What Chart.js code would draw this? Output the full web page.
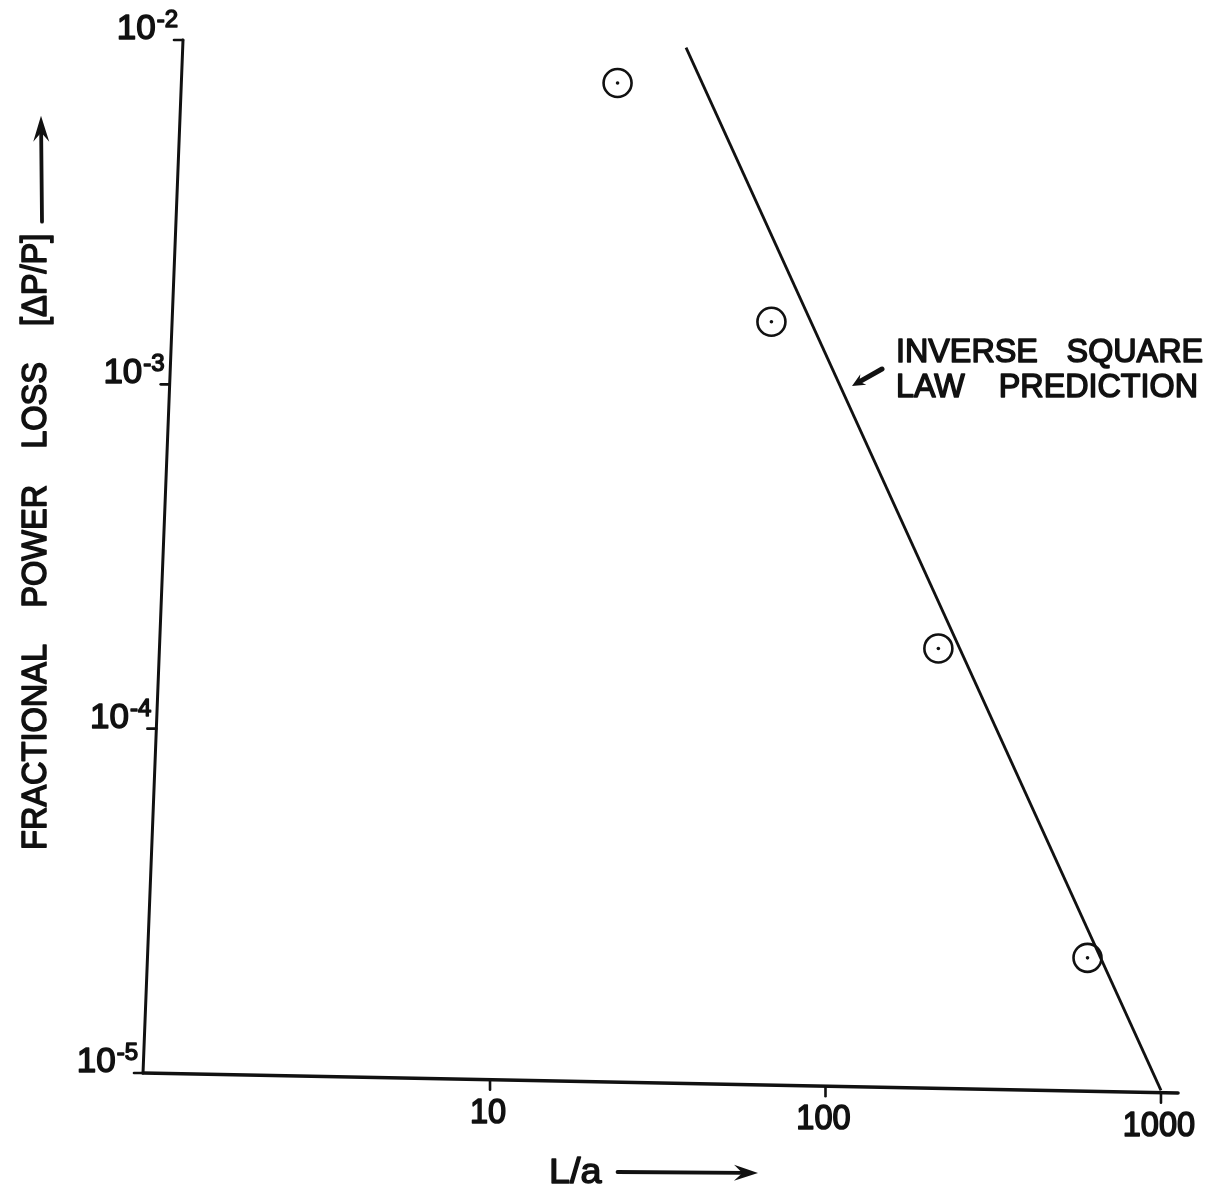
<!DOCTYPE html>
<html>
<head>
<meta charset="utf-8">
<script src="https://cdn.jsdelivr.net/npm/chart.js@4/dist/chart.umd.min.js"></script>
<style>
  html, body { margin: 0; padding: 0; background: #fff; }
  canvas { display: block; }
</style>
</head>
<body>
<canvas id="chart" width="1212" height="1190"></canvas>
<script>
// Measured fractional power loss against L/a
const ratioLa   = [24, 69, 217, 604];
const powerLoss = [7.5e-3, 1.52e-3, 1.71e-4, 2.16e-5];

// Inverse square law prediction (end points of the straight line)
const lawLa   = [38.4, 1000];
const lawLoss = [9.5e-3, 8.9e-6];

// Axis ticks
const xTicks      = [10, 100, 1000];
const xTickLabels = ['10', '100', '1000'];
const yTicks      = [1e-2, 1e-3, 1e-4, 1e-5];
const yTickExp    = ['-2', '-3', '-4', '-5'];

// Texts
const xTitle      = 'L/a';
const yTitleWords = ['FRACTIONAL', 'POWER', 'LOSS', '[ΔP/P]'];
const noteLines   = [['INVERSE', 'SQUARE'], ['LAW', 'PREDICTION']];

const FONT = '"Liberation Sans", Arial, Helvetica, sans-serif';
const INK = '#111';
const WEIGHT = 1.5;   // extra outline to thicken the strokes

function pairs(xs, ys) { return xs.map((v, i) => ({ x: v, y: ys[i] })); }

function inkText(ctx, s, x, y, sx = 1) {
  ctx.save();
  ctx.translate(x, y);
  ctx.scale(sx, 1);
  ctx.lineWidth = WEIGHT / sx;
  ctx.lineJoin = 'round';
  ctx.fillText(s, 0, 0);
  ctx.strokeText(s, 0, 0);
  ctx.restore();
}
function textW(ctx, s, sx = 1) { return ctx.measureText(s).width * sx; }

// straight arrow with a barbed head at (x2, y2)
function arrow(ctx, x1, y1, x2, y2, width, headLen, headHalf) {
  const ang = Math.atan2(y2 - y1, x2 - x1);
  const c = Math.cos(ang), s = Math.sin(ang);
  ctx.save();
  ctx.lineWidth = width;
  ctx.lineCap = 'round';
  ctx.beginPath();
  ctx.moveTo(x1, y1);
  ctx.lineTo(x2 - c * headLen * 0.6, y2 - s * headLen * 0.6);
  ctx.stroke();
  const bx = x2 - c * headLen, by = y2 - s * headLen;
  const nx = x2 - c * headLen * 0.65, ny = y2 - s * headLen * 0.65;
  ctx.beginPath();
  ctx.moveTo(x2, y2);
  ctx.lineTo(bx - s * headHalf, by + c * headHalf);
  ctx.lineTo(nx, ny);
  ctx.lineTo(bx + s * headHalf, by - c * headHalf);
  ctx.closePath();
  ctx.fill();
  ctx.restore();
}

// Hand-drawn style frame: the vertical axis leans and the horizontal axis sags slightly
const Y_AXIS_LEAN = 40;
const X_AXIS_SAG = 20;

const framePlugin = {
  id: 'frame',
  afterDraw(chart) {
    const { ctx, chartArea: a, scales: { x, y } } = chart;
    const axX = py => a.left + 3 + Y_AXIS_LEAN * (a.bottom - py) / (a.bottom - a.top);
    const axY = px => a.bottom + X_AXIS_SAG * (px - a.left) / (a.right - a.left);

    ctx.save();
    ctx.strokeStyle = INK;
    ctx.fillStyle = INK;
    ctx.lineCap = 'round';

    // vertical axis
    ctx.lineWidth = 3;
    ctx.beginPath();
    ctx.moveTo(axX(a.top), a.top);
    ctx.lineTo(axX(a.bottom), a.bottom);
    ctx.stroke();

    // horizontal axis
    ctx.lineWidth = 3.6;
    ctx.beginPath();
    ctx.moveTo(axX(a.bottom), a.bottom);
    ctx.lineTo(a.right, axY(a.right));
    ctx.stroke();

    // y ticks and labels
    ctx.textBaseline = 'alphabetic';
    yTicks.forEach((v, i) => {
      const py = y.getPixelForValue(v);
      const px = axX(py);
      ctx.lineWidth = 2.6;
      ctx.beginPath();
      ctx.moveTo(px - 9, py);
      ctx.lineTo(px, py);
      ctx.stroke();

      ctx.font = `24px ${FONT}`;
      const ew = textW(ctx, yTickExp[i]);
      ctx.textAlign = 'right';
      inkText(ctx, yTickExp[i], px - 5, py - 13);
      ctx.font = `35px ${FONT}`;
      inkText(ctx, '10', px - 6 - ew, py - 1);
    });

    // x ticks and labels
    ctx.textAlign = 'center';
    xTicks.forEach((v, i) => {
      const px = x.getPixelForValue(v);
      const py = axY(px);
      ctx.lineWidth = 2.6;
      ctx.beginPath();
      ctx.moveTo(px, py);
      ctx.lineTo(px, py + 10);
      ctx.stroke();
      ctx.font = `35px ${FONT}`;
      inkText(ctx, xTickLabels[i], px - 2, py + 43, 0.93);
    });

    // x title with arrow
    ctx.textAlign = 'left';
    ctx.font = `35px ${FONT}`;
    inkText(ctx, xTitle, 549, 1183, 1.08);
    const tw = textW(ctx, xTitle, 1.08);
    arrow(ctx, 549 + tw + 16, 1172, 758, 1173, 3.8, 24, 8);

    // y title, rotated, with arrow
    ctx.save();
    ctx.translate(46, 850);
    ctx.rotate(-Math.PI / 2);
    ctx.font = `35px ${FONT}`;
    ctx.textAlign = 'left';
    let u = 0;
    yTitleWords.forEach((w, i) => {
      inkText(ctx, w, u, 0, 0.93);
      u += textW(ctx, w, 0.93) + (i < yTitleWords.length - 1 ? 36 : 0);
    });
    arrow(ctx, u + 12, -4, u + 118, -5, 3.8, 26, 8);
    ctx.restore();

    // note on the prediction line: first word flush left, second flush right
    ctx.font = `34px ${FONT}`;
    const noteBase = [362, 397];
    noteLines.forEach((ln, i) => {
      ctx.textAlign = 'left';
      inkText(ctx, ln[0], 896, noteBase[i], 0.95);
      ctx.textAlign = 'right';
      inkText(ctx, ln[1], i === 0 ? 1203 : 1198, noteBase[i], 0.95);
    });
    arrow(ctx, 882, 369, 852, 386, 5, 13, 6);

    ctx.restore();
  }
};

new Chart(document.getElementById('chart'), {
  type: 'scatter',
  data: {
    datasets: [
      {
        label: 'Inverse square law prediction',
        data: pairs(lawLa, lawLoss),
        showLine: true,
        borderColor: INK,
        borderWidth: 2.8,
        pointRadius: 0,
        tension: 0,
        clip: false
      },
      {
        label: 'Measured',
        data: pairs(ratioLa, powerLoss),
        showLine: false,
        pointRadius: 14,
        pointBorderWidth: 2.6,
        pointBorderColor: INK,
        pointBackgroundColor: 'rgba(0,0,0,0)'
      },
      {
        label: 'Measured (centre)',
        data: pairs(ratioLa, powerLoss),
        showLine: false,
        pointRadius: 1.8,
        pointBorderWidth: 0,
        pointBackgroundColor: INK
      }
    ]
  },
  options: {
    responsive: false,
    animation: false,
    layout: { padding: { left: 140, right: 34, top: 40, bottom: 117 } },
    plugins: { legend: { display: false }, tooltip: { enabled: false } },
    scales: {
      x: { type: 'logarithmic', min: 0.905, max: 1124, display: false },
      y: { type: 'logarithmic', min: 1e-5, max: 1e-2, display: false }
    }
  },
  plugins: [framePlugin]
});
</script>
</body>
</html>
